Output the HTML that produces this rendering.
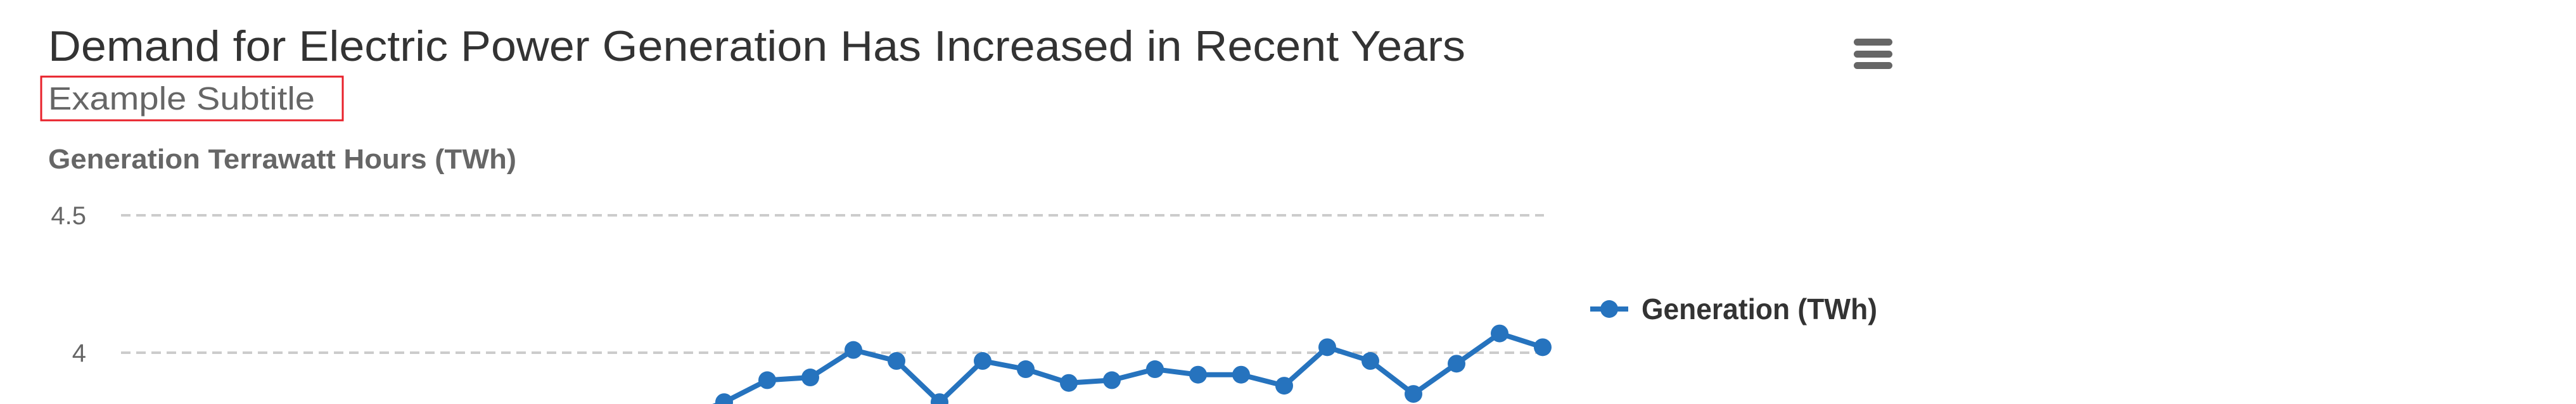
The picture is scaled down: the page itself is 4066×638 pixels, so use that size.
<!DOCTYPE html>
<html><head><meta charset="utf-8"><style>
html,body{margin:0;padding:0;background:#fff;width:4066px;height:638px;overflow:hidden;}
svg{display:block;font-family:"Liberation Sans",sans-serif;overflow:hidden;}
</style></head><body>
<svg id="chart" width="4066" height="638" viewBox="0 0 4066 638">
<defs><clipPath id="clip"><rect x="0" y="0" width="4066" height="638"/></clipPath></defs>
<text x="76" y="96" font-size="68" fill="#333" textLength="2237" lengthAdjust="spacingAndGlyphs">Demand for Electric Power Generation Has Increased in Recent Years</text>
<rect x="65" y="121" width="476" height="69" fill="none" stroke="#e8202a" stroke-width="3"/>
<text x="76" y="173" font-size="51" fill="#666" textLength="421" lengthAdjust="spacingAndGlyphs">Example Subtitle</text>
<text x="76" y="266" font-size="44" font-weight="bold" fill="#666" textLength="739" lengthAdjust="spacingAndGlyphs">Generation Terrawatt Hours (TWh)</text>
<g>
<rect x="2926" y="61" width="61" height="11" rx="5.5" fill="#666"/>
<rect x="2926" y="80" width="61" height="11" rx="5.5" fill="#666"/>
<rect x="2926" y="98" width="61" height="11" rx="5.5" fill="#666"/>
</g>
<g id="grid"></g>
<g id="series" clip-path="url(#clip)"></g>
<g>
<line x1="2510" y1="488" x2="2570" y2="488" stroke="#2673be" stroke-width="8"/>
<circle cx="2540" cy="488" r="14" fill="#2673be"/>
<text x="2591" y="504" font-size="46" font-weight="bold" fill="#333" textLength="372" lengthAdjust="spacingAndGlyphs">Generation (TWh)</text>
</g>
</svg>
<script>
const yTicks = [4, 4.5];
const tickLabels = ["4", "4.5"];
const values = [3.55,3.58,3.6,3.62,3.6,3.64,3.66,3.63,3.68,3.7,3.72,3.69,3.74,3.76,
 3.82,3.90,3.91,4.01,3.97,3.82,3.97,3.94,3.89,3.90,3.94,3.92,3.92,3.88,4.02,3.97,3.85,3.96,4.07,4.02];
const NS="http://www.w3.org/2000/svg";
const x0=191,x1=2437;
function xs(i){return x0+(x1-2-x0)*i/(values.length-1);}
function ys(v){return 557-(v-4)*434;}
const grid=document.getElementById('grid');
yTicks.forEach((t,i)=>{
 const l=document.createElementNS(NS,'line');
 l.setAttribute('x1',x0);l.setAttribute('x2',x1);
 l.setAttribute('y1',ys(t));l.setAttribute('y2',ys(t));
 l.setAttribute('stroke','#ccc');l.setAttribute('stroke-width','4');l.setAttribute('stroke-dasharray','15,9');
 
 
 grid.appendChild(l);
 const tx=document.createElementNS(NS,'text');
 tx.setAttribute('x',136);tx.setAttribute('y',ys(t)+14);
 tx.setAttribute('text-anchor','end');tx.setAttribute('font-size','40');tx.setAttribute('fill','#666');
 tx.textContent=tickLabels[i];
 
 
 grid.appendChild(tx);
});
const s=document.getElementById('series');
const p=document.createElementNS(NS,'polyline');
p.setAttribute('points',values.map((v,i)=>xs(i)+','+ys(v)).join(' '));
p.setAttribute('fill','none');p.setAttribute('stroke','#2673be');p.setAttribute('stroke-width','8');p.setAttribute('stroke-linejoin','round');


s.appendChild(p);
values.forEach((v,i)=>{
 const c=document.createElementNS(NS,'circle');
 c.setAttribute('cx',xs(i));c.setAttribute('cy',ys(v));c.setAttribute('r','14');c.setAttribute('fill','#2673be');
 
 
 s.appendChild(c);
});
</script>
</body></html>
